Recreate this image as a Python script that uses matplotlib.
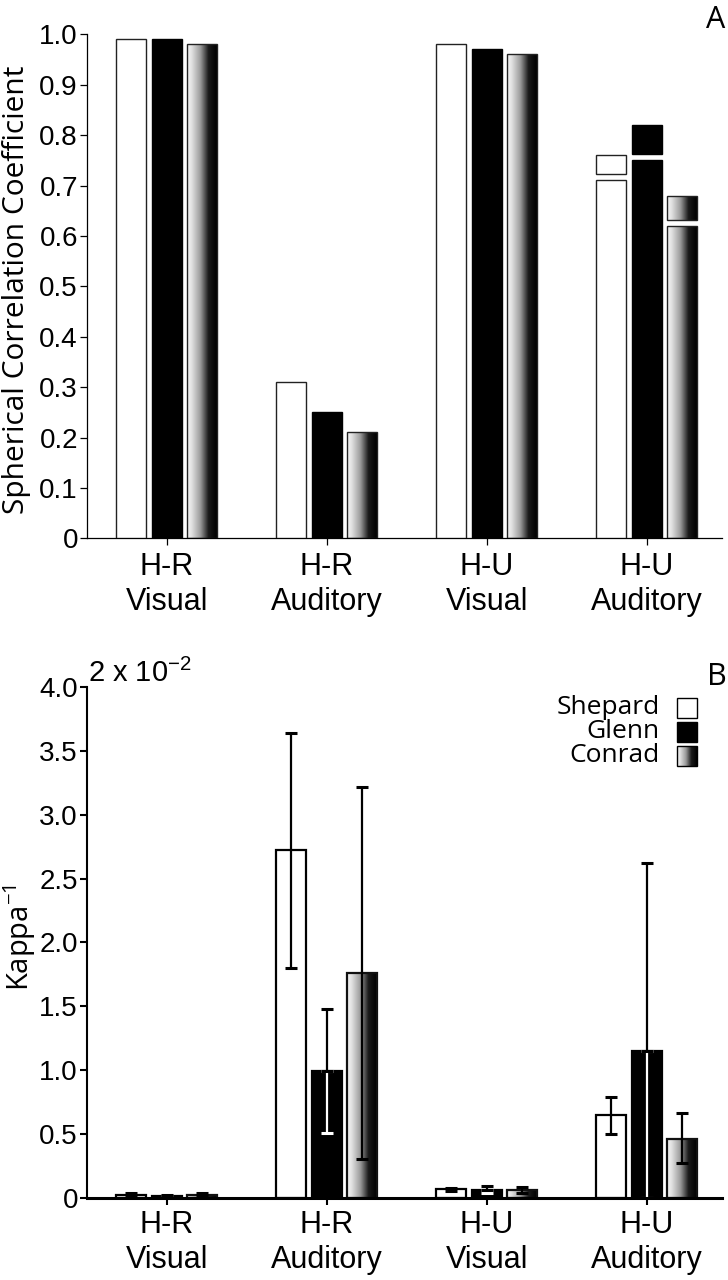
import numpy as np
import matplotlib
matplotlib.use("Agg")
import matplotlib.pyplot as plt
from matplotlib.colors import LinearSegmentedColormap
from matplotlib.patches import Rectangle

# ---------------- data ----------------
categories = ["H-R\nVisual", "H-R\nAuditory", "H-U\nVisual", "H-U\nAuditory"]
series = ["Shepard", "Glenn", "Conrad"]

# Panel A: spherical correlation coefficient (top of bar)
corr_shepard = [0.99, 0.31, 0.98, 0.76]
corr_glenn = [0.99, 0.25, 0.97, 0.82]
corr_conrad = [0.98, 0.21, 0.96, 0.68]
# lower value of the split bars (None = single bar)
corr_low_shepard = [None, None, None, 0.71]
corr_low_glenn = [None, None, None, 0.75]
corr_low_conrad = [None, None, None, 0.62]

# Panel B: kappa^-1 (units of 2 x 10^-2) with error ranges
kappa_shepard = [0.025, 2.72, 0.065, 0.65]
kappa_glenn = [0.01, 0.99, 0.06, 1.15]
kappa_conrad = [0.025, 1.76, 0.06, 0.46]
kappa_lo_shepard = [0.015, 1.80, 0.05, 0.50]
kappa_hi_shepard = [0.035, 3.64, 0.078, 0.79]
kappa_lo_glenn = [0.0, 0.51, 0.035, 0.0]
kappa_hi_glenn = [0.02, 1.48, 0.094, 2.62]
kappa_lo_conrad = [0.015, 0.30, 0.035, 0.27]
kappa_hi_conrad = [0.04, 3.22, 0.086, 0.66]

yticksA = [0, 0.1, 0.2, 0.3, 0.4, 0.5, 0.6, 0.7, 0.8, 0.9, 1.0]
yticklabelsA = ["0", "0.1", "0.2", "0.3", "0.4", "0.5", "0.6", "0.7", "0.8", "0.9", "1.0"]
yticksB = [0, 0.5, 1.0, 1.5, 2.0, 2.5, 3.0, 3.5, 4.0]
yticklabelsB = ["0", "0.5", "1.0", "1.5", "2.0", "2.5", "3.0", "3.5", "4.0"]

# ---------------- style ----------------
plt.rcParams['font.family'] = ['Liberation Sans', 'DejaVu Sans']
plt.rcParams['mathtext.default'] = 'regular'
HUM = ['Open Sans', 'DejaVu Sans']
YTICKFS = 20
XTICKFS = 22

conrad_cmap = LinearSegmentedColormap.from_list(
    "conrad", [(0.0, "#f6f6f6"), (0.15, "#e2e2e2"), (0.45, "#9a9a9a"),
               (0.72, "#1a1a1a"), (1.0, "#000000")])
grad = np.linspace(0, 1, 256).reshape(1, -1)

W, H = 728, 1280
fig = plt.figure(figsize=(W / 100, H / 100), dpi=100)

axA = fig.add_axes([87 / W, 1 - 538.3 / H, (722 - 87) / W, (538.3 - 34.3) / H])
axB = fig.add_axes([87 / W, 1 - 1197.7 / H, (722 - 87) / W, (1197.7 - 687) / H])

x = np.arange(len(categories))
pitch = 0.222
bw = 0.1875
offsets = [-pitch, 0, pitch]
face = ["white", "black", None]


def gradient_bar(ax, patch):
    patch.set_facecolor("none")
    x0, y0 = patch.get_x(), patch.get_y()
    w, h = patch.get_width(), patch.get_height()
    im = ax.imshow(grad, cmap=conrad_cmap, extent=(x0, x0 + w, y0, y0 + h),
                   aspect="auto", interpolation="bilinear", zorder=2)
    im.set_clip_path(patch)


def draw_bars(ax, xs, tops, bottoms, j, lw, ec):
    bars = ax.bar(xs, np.array(tops) - np.array(bottoms), width=bw, bottom=bottoms,
                  facecolor=face[j] if face[j] else "none", edgecolor=ec,
                  linewidth=lw, zorder=3)
    if j == 2:
        for p in bars:
            gradient_bar(ax, p)
    return bars


# ---------------- panel A ----------------
corr_tops = [corr_shepard, corr_glenn, corr_conrad]
corr_lows = [corr_low_shepard, corr_low_glenn, corr_low_conrad]
gap = 0.012
edgesA = ["#222222", "black", "#222222"]
for j in range(3):
    for i in range(len(categories)):
        xi = x[i] + offsets[j]
        top = corr_tops[j][i]
        low = corr_lows[j][i]
        if low is None:
            draw_bars(axA, [xi], [top], [0.0], j, 1.0, edgesA[j])
        else:
            draw_bars(axA, [xi], [low], [0.0], j, 1.0, edgesA[j])
            draw_bars(axA, [xi], [top], [low + gap], j, 1.0, edgesA[j])

axA.set_xlim(-0.5, 3.47)
axA.set_ylim(0, 1.0)
axA.set_yticks(yticksA)
axA.set_yticklabels(yticklabelsA, fontsize=YTICKFS)
axA.set_xticks(x)
axA.set_xticklabels(categories, fontsize=XTICKFS, linespacing=1.2)
for s in ["top", "right"]:
    axA.spines[s].set_visible(False)
for s in ["left", "bottom"]:
    axA.spines[s].set_linewidth(0.9)
axA.tick_params(axis="y", length=5, width=0.9, pad=1.5)
axA.tick_params(axis="x", length=5, width=0.9, pad=5)
axA.patch.set_visible(False)

# ---------------- panel B ----------------
k_vals = [kappa_shepard, kappa_glenn, kappa_conrad]
k_lo = [kappa_lo_shepard, kappa_lo_glenn, kappa_lo_conrad]
k_hi = [kappa_hi_shepard, kappa_hi_glenn, kappa_hi_conrad]
edgesB = ["black", "black", "#111111"]
for j in range(3):
    xs = x + offsets[j]
    vals = np.array(k_vals[j])
    lo = np.array(k_lo[j])
    hi = np.array(k_hi[j])
    draw_bars(axB, xs, vals, np.zeros_like(vals), j, 1.6, edgesB[j])
    if j == 1:
        axB.errorbar(xs, vals, yerr=[vals - lo, np.zeros_like(vals)], fmt="none",
                     ecolor="white", elinewidth=1.6, capsize=4.5, capthick=2.2, zorder=4)
        axB.errorbar(xs, vals, yerr=[np.zeros_like(vals), hi - vals], fmt="none",
                     ecolor="black", elinewidth=1.6, capsize=4.5, capthick=2.2, zorder=4.5)
    else:
        axB.errorbar(xs, vals, yerr=[vals - lo, hi - vals], fmt="none",
                     ecolor="black", elinewidth=1.6, capsize=4.5, capthick=2.2, zorder=4)

axB.set_xlim(-0.5, 3.47)
axB.set_ylim(0, 4.0)
axB.set_yticks(yticksB)
axB.set_yticklabels(yticklabelsB, fontsize=YTICKFS)
axB.set_xticks(x)
axB.set_xticklabels(categories, fontsize=XTICKFS, linespacing=1.2)
for s in ["top", "right"]:
    axB.spines[s].set_visible(False)
axB.spines["left"].set_linewidth(1.5)
axB.spines["bottom"].set_linewidth(2.2)
axB.spines["bottom"].set_zorder(6)
axB.tick_params(axis="y", length=5, width=1.5, pad=1.5)
axB.tick_params(axis="x", length=5, width=1.5, pad=4)
axB.patch.set_visible(False)

# legend (manual)
leg_y = [0.959, 0.912, 0.865]
sq_w, sq_h = 20 / 635, 20 / 510.7
for j, name in enumerate(series):
    yc = leg_y[j]
    r = Rectangle((0.9295, yc - sq_h / 2), sq_w, sq_h, transform=axB.transAxes,
                  facecolor=face[j] if face[j] else "none", edgecolor="black",
                  linewidth=1.0, zorder=5, clip_on=False)
    axB.add_patch(r)
    if j == 2:
        im = axB.imshow(grad, cmap=conrad_cmap,
                        extent=(0.9295, 0.9295 + sq_w, yc - sq_h / 2, yc + sq_h / 2),
                        transform=axB.transAxes, aspect="auto", zorder=4.5,
                        interpolation="bilinear")
        im.set_clip_path(r)
    axB.text(0.902, yc, name, transform=axB.transAxes, ha="right", va="center",
             fontsize=19, family=HUM)
axB.set_xlim(-0.5, 3.47)
axB.set_ylim(0, 4.0)

# text labels
fig.text(17 / W, 1 - 290 / H, "Spherical Correlation Coefficient", rotation=90,
         ha="center", va="center", fontsize=21.5, family=HUM)
fig.text(20 / W, 1 - 938 / H, "Kappa$^{-1}$", rotation=90,
         ha="center", va="center", fontsize=21, family=HUM)
fig.text(88 / W, 1 - 682 / H, "2 x 10$^{-2}$", ha="left", va="baseline",
         fontsize=21)
fig.text(725 / W, 1 - 28 / H, "A", ha="right", va="baseline", fontsize=22, family=HUM)
fig.text(727 / W, 1 - 685 / H, "B", ha="right", va="baseline", fontsize=22, family=HUM)

fig.savefig("out.png", dpi=100)
